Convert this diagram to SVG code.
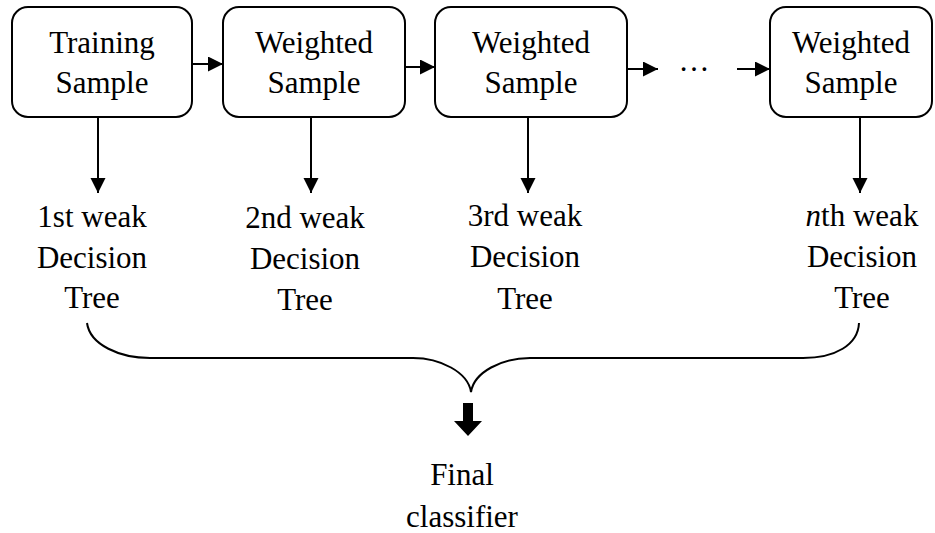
<svg xmlns="http://www.w3.org/2000/svg" width="935" height="533" viewBox="0 0 935 533">
<style>
.box{fill:#fff;stroke:#000;stroke-width:2}
.ln{stroke:#000;stroke-width:2;fill:none}
</style>
<defs>
<marker id="ah" markerWidth="16" markerHeight="16" refX="15" refY="7.5" orient="auto" markerUnits="userSpaceOnUse">
<path d="M0,0 L15,7.5 L0,15 Z" fill="#000"/>
</marker>
</defs>
<rect width="935" height="533" fill="#fff"/>
<g id="connectors">
<line class="ln" x1="192" y1="64" x2="223" y2="64" marker-end="url(#ah)"/>
<line class="ln" x1="405" y1="67" x2="435" y2="67" marker-end="url(#ah)"/>
<line class="ln" x1="627" y1="69" x2="658" y2="69" marker-end="url(#ah)"/>
<line class="ln" x1="737" y1="69" x2="770" y2="69" marker-end="url(#ah)"/>
<line class="ln" x1="98" y1="117" x2="98" y2="193" marker-end="url(#ah)"/>
<line class="ln" x1="311" y1="117" x2="311" y2="193" marker-end="url(#ah)"/>
<line class="ln" x1="528" y1="117" x2="528" y2="193" marker-end="url(#ah)"/>
<line class="ln" x1="860" y1="117" x2="860" y2="193" marker-end="url(#ah)"/>
<path class="ln" d="M87,323 C90,345 120,358 150,358 L413,358 C440,358 468,372 471,392 C474,372 502,358 530,358 L803,358 C835,358 858,345 859,323"/>
<polygon points="463,403 473,403 473,421 482,421 468,436 454,421 463,421" fill="#000"/>
</g>
<g font-family="Liberation Serif, Times New Roman, serif" font-size="31" fill="#000" text-anchor="middle">
<g id="n1"><rect class="box" x="12" y="7" width="180" height="110" rx="16"/>
<text x="102" y="53">Training</text><text x="102" y="93">Sample</text></g>
<g id="n2"><rect class="box" x="223" y="7" width="182" height="110" rx="16"/>
<text x="314" y="53">Weighted</text><text x="314" y="93">Sample</text></g>
<g id="n3"><rect class="box" x="435" y="7" width="192" height="110" rx="16"/>
<text x="531" y="53">Weighted</text><text x="531" y="93">Sample</text></g>
<g id="dots"><text x="694" y="71">…</text></g>
<g id="n4"><rect class="box" x="770" y="7" width="162" height="110" rx="16"/>
<text x="851" y="53">Weighted</text><text x="851" y="93">Sample</text></g>
<g id="d1"><text x="92" y="227">1st weak</text><text x="92" y="268">Decision</text><text x="92" y="308">Tree</text></g>
<g id="d2"><text x="305" y="228">2nd weak</text><text x="305" y="269">Decision</text><text x="305" y="310">Tree</text></g>
<g id="d3"><text x="525" y="226">3rd weak</text><text x="525" y="267">Decision</text><text x="525" y="309">Tree</text></g>
<g id="d4"><text x="862" y="226"><tspan font-style="italic">n</tspan>th weak</text><text x="862" y="267">Decision</text><text x="862" y="308">Tree</text></g>
<g id="final"><text x="462" y="485">Final</text><text x="462" y="527">classifier</text></g>
</g>
</svg>
